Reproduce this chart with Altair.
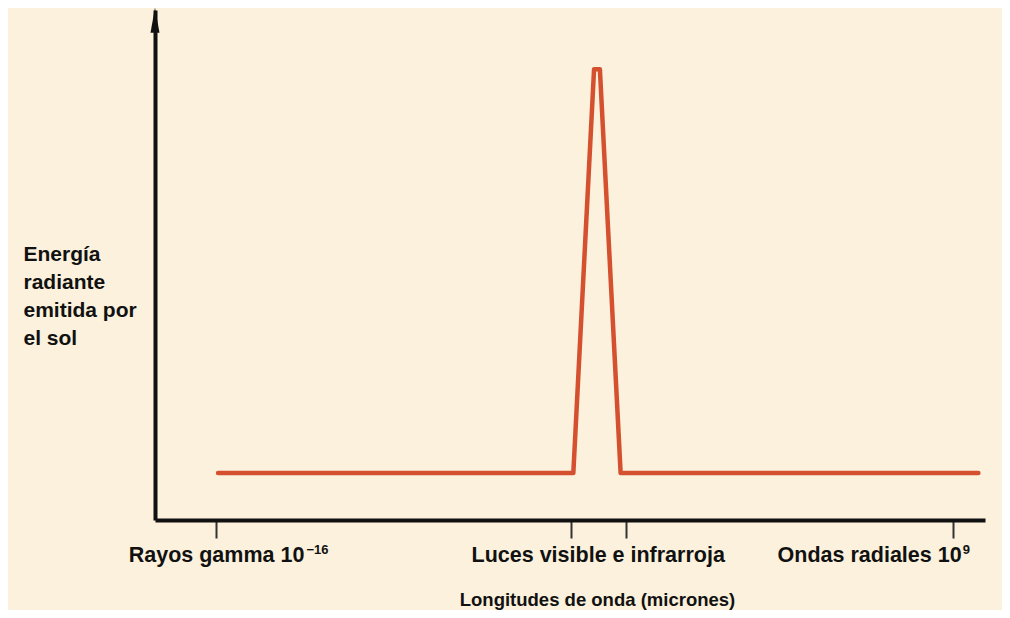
import altair as alt
import pandas as pd

# Schematic spectrum (arbitrary wavelength units 0-100, energy 0-100)
line_x = [7.6, 50.4, 52.9, 53.6, 56.1, 99.2]
line_y = [9.2, 9.2, 88.4, 88.4, 9.2, 9.2]

tick_x = [7.4, 50.1, 56.7, 96.1]
label_main = ["Rayos gamma 10", "Luces visible e infrarroja", "Ondas radiales 10"]
label_sup = ["\u221216", "9"]
y_title = ["Energía", "radiante", "emitida por", "el sol"]
x_title = "Longitudes de onda (micrones)"

BG = "#FBF1DC"
RED = "#D4502F"
INK = "#111111"
FONT = "Liberation Sans"

line_df = pd.DataFrame({"x": line_x, "y": line_y, "o": range(len(line_x))})
label_df = pd.DataFrame({
    "x": [tick_x[0], (tick_x[1] + tick_x[2]) / 2, tick_x[3]],
    "y": [0, 0, 0],
    "t": label_main,
})
sup_df = pd.DataFrame({"x": [tick_x[0], tick_x[3]], "y": [0, 0], "t": label_sup})
arrow_df = pd.DataFrame({"x": [0], "y": [98.0]})

xs = alt.Scale(domain=[0, 100], nice=False, zero=False)
ys = alt.Scale(domain=[0, 100], nice=False, zero=False)

xaxis = alt.Axis(
    values=tick_x, labels=False, grid=False, ticks=True,
    tickSize=18, tickWidth=2, tickColor="#333333",
    domainWidth=4, domainColor=INK,
    title=x_title, titleFont=FONT, titleFontSize=18.5, titleFontWeight="bold",
    titleColor=INK, titleX=442, titleY=85, titleAlign="center",
    titleBaseline="alphabetic", titleAnchor="start",
)
yaxis = alt.Axis(
    labels=False, ticks=False, grid=False,
    domainWidth=4, domainColor=INK,
    title=y_title, titleFont=FONT, titleFontSize=21, titleFontWeight="bold",
    titleColor=INK, titleAngle=0, titleAlign="left", titleBaseline="alphabetic",
    titleX=-132, titleY=250, titleLineHeight=28, titleAnchor="start",
)

line = alt.Chart(line_df).mark_line(
    color=RED, strokeWidth=4.5, strokeJoin="round", strokeCap="round"
).encode(
    x=alt.X("x:Q", scale=xs, axis=xaxis),
    y=alt.Y("y:Q", scale=ys, axis=yaxis),
    order="o:O",
)

arrow = alt.Chart(arrow_df).mark_point(
    shape="M0,-1L0.36,1L-0.36,1Z", filled=True, color=INK, size=625, opacity=1
).encode(x=alt.X("x:Q", scale=xs), y=alt.Y("y:Q", scale=ys))


def lab(df, i, align, dx, dy, size):
    return alt.Chart(df.iloc[[i]]).mark_text(
        font=FONT, fontSize=size, fontWeight="bold", color=INK,
        align=align, baseline="alphabetic", dx=dx, dy=dy,
    ).encode(x=alt.X("x:Q", scale=xs), y=alt.Y("y:Q", scale=ys), text="t:N")


chart = alt.layer(
    line, arrow,
    lab(label_df, 0, "right", 88, 42, 21.5),
    lab(sup_df, 0, "left", 90, 34, 13),
    lab(label_df, 1, "center", 0, 42, 21.5),
    lab(label_df, 2, "right", 9, 42, 21.5),
    lab(sup_df, 1, "left", 10, 34, 13),
).properties(
    width=830, height=510,
    padding={"left": 147, "right": 17, "top": 2, "bottom": 90},
    autosize=alt.AutoSizeParams(type="none"),
    background=BG,
).configure_view(stroke=None)

chart.save("out.html", embed_options={"renderer": "svg", "actions": False})
